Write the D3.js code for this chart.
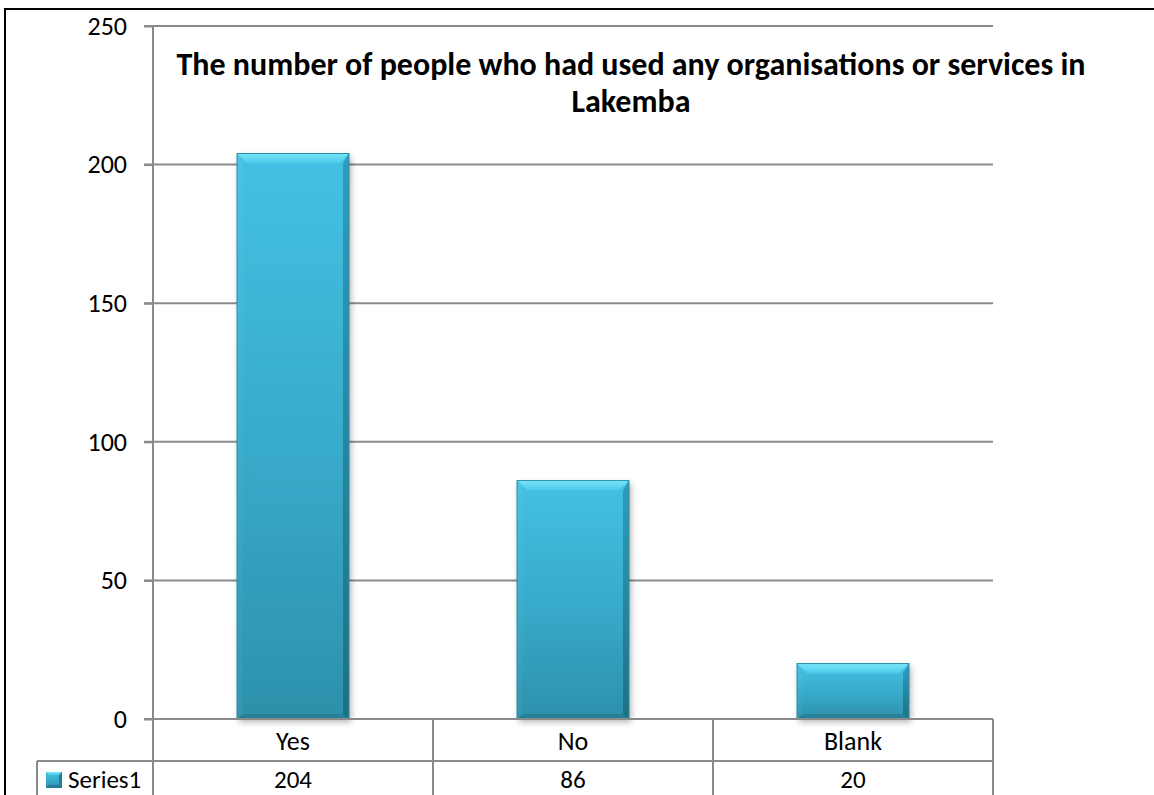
<!DOCTYPE html>
<html>
<head>
<meta charset="utf-8">
<script src="https://cdn.jsdelivr.net/npm/d3@7"></script>
<style>
  html, body { margin: 0; padding: 0; background: #fff; }
  svg { display: block; font-family: Carlito, Calibri, Lato, "Open Sans", sans-serif; }
</style>
</head>
<body>
<svg id="chart" width="1154" height="795"></svg>
<script>
// Survey answers and counts
const categories = ["Yes", "No", "Blank"];
const seriesName = "Series1";
const seriesValues = [204, 86, 20];
const yTicks = [0, 50, 100, 150, 200, 250];
const titleLines = ["The number of people who had used any organisations or services in", "Lakemba"];

const svg = d3.select("#chart");
const W = 1154, H = 795;
const labelSize = 26;

// plot frame
const plot = { left: 153, right: 993, top: 26, bottom: 719 };
const tableRow1 = 761;   // line between category row and value row
const tableLeft = 37;

const x = d3.scaleBand().domain(categories).range([plot.left, plot.right]).paddingInner(0.6).paddingOuter(0.3);
const xCell = d3.scaleBand().domain(categories).range([plot.left, plot.right]).padding(0);
const y = d3.scaleLinear().domain([0, 250]).range([plot.bottom, plot.top]);

const defs = svg.append("defs");
const bodyGrad = defs.append("linearGradient").attr("id", "bodyGrad").attr("x1", 0).attr("y1", 0).attr("x2", 0).attr("y2", 1);
bodyGrad.append("stop").attr("offset", "0%").attr("stop-color", "#43c1e4");
bodyGrad.append("stop").attr("offset", "55%").attr("stop-color", "#37a9c9");
bodyGrad.append("stop").attr("offset", "100%").attr("stop-color", "#2d90aa");

const topGrad = defs.append("linearGradient").attr("id", "topGrad").attr("x1", 0).attr("y1", 0).attr("x2", 0).attr("y2", 1);
topGrad.append("stop").attr("offset", "0%").attr("stop-color", "#7ae6fa");
topGrad.append("stop").attr("offset", "100%").attr("stop-color", "#4ac8ea");

const sideL = defs.append("linearGradient").attr("id", "sideL").attr("x1", 0).attr("y1", 0).attr("x2", 0).attr("y2", 1);
sideL.append("stop").attr("offset", "0%").attr("stop-color", "#4cc6e6");
sideL.append("stop").attr("offset", "100%").attr("stop-color", "#3399b3");

const sideR = defs.append("linearGradient").attr("id", "sideR").attr("x1", 0).attr("y1", 0).attr("x2", 0).attr("y2", 1);
sideR.append("stop").attr("offset", "0%").attr("stop-color", "#2b97b3");
sideR.append("stop").attr("offset", "100%").attr("stop-color", "#1c6a7e");

const shadow = defs.append("filter").attr("id", "shadow").attr("x", "-20%").attr("y", "-20%").attr("width", "140%").attr("height", "140%");
shadow.append("feDropShadow").attr("dx", 2).attr("dy", 3).attr("stdDeviation", 3)
  .attr("flood-color", "#000").attr("flood-opacity", 0.3);

// outer chart border
svg.append("path")
  .attr("d", `M5,${H + 2} L5,9 L${W + 2},9`)
  .attr("fill", "none").attr("stroke", "#000").attr("stroke-width", 2);

// horizontal gridlines
const gridColor = "#8a8a8a";
svg.append("g").selectAll("line").data(yTicks.filter(d => d > 0)).join("line")
  .attr("x1", plot.left - 9).attr("x2", plot.right)
  .attr("y1", d => y(d)).attr("y2", d => y(d))
  .attr("stroke", gridColor).attr("stroke-width", 2);

// y axis labels via d3 axis
const yAxis = svg.append("g").attr("transform", `translate(${plot.left},0)`)
  .call(d3.axisLeft(y).tickValues(yTicks).tickSize(9).tickPadding(17));
yAxis.select(".domain").remove();
yAxis.selectAll(".tick line").attr("stroke", gridColor).attr("stroke-width", 2);
yAxis.selectAll(".tick text").attr("font-size", labelSize).attr("fill", "#000")
  .attr("font-family", "Carlito, Calibri, Lato, sans-serif");

// bars with bevelled faces
const b = 10;
const bars = svg.append("g").selectAll("g").data(seriesValues.map((v, i) => ({ v, c: categories[i] }))).join("g");
bars.each(function (d) {
  const g = d3.select(this);
  const x0 = x(d.c), w = x.bandwidth(), y0 = y(d.v), h = y(0) - y(d.v);
  const bb = Math.min(b, h / 3);
  g.append("rect").attr("x", x0).attr("y", y0).attr("width", w).attr("height", h)
    .attr("fill", "url(#bodyGrad)").attr("filter", "url(#shadow)");
  g.append("polygon").attr("points", [[x0, y0], [x0 + w, y0], [x0 + w - bb, y0 + bb], [x0 + bb, y0 + bb]].join(" "))
    .attr("fill", "url(#topGrad)");
  g.append("polygon").attr("points", [[x0, y0], [x0 + bb * 0.6, y0 + bb], [x0 + bb * 0.6, y0 + h - bb * 0.5], [x0, y0 + h]].join(" "))
    .attr("fill", "url(#sideL)").attr("opacity", 0.7);
  g.append("polygon").attr("points", [[x0 + w, y0], [x0 + w - bb * 0.6, y0 + bb], [x0 + w - bb * 0.6, y0 + h - bb * 0.5], [x0 + w, y0 + h]].join(" "))
    .attr("fill", "url(#sideR)").attr("opacity", 0.85);
  g.append("polygon").attr("points", [[x0, y0 + h], [x0 + bb * 0.6, y0 + h - bb * 0.5], [x0 + w - bb * 0.6, y0 + h - bb * 0.5], [x0 + w, y0 + h]].join(" "))
    .attr("fill", "#247d94").attr("opacity", 0.8);
  g.append("rect").attr("x", x0).attr("y", y0).attr("width", w).attr("height", h)
    .attr("fill", "none").attr("stroke", "#2a8ea8").attr("stroke-width", 1);
});

// data table lines
const tbl = svg.append("g").attr("stroke", gridColor).attr("stroke-width", 2).attr("fill", "none");
tbl.append("line").attr("x1", plot.left - 9).attr("x2", plot.right).attr("y1", plot.bottom).attr("y2", plot.bottom);
tbl.append("line").attr("x1", tableLeft).attr("x2", plot.right).attr("y1", tableRow1).attr("y2", tableRow1);
tbl.append("line").attr("x1", plot.left).attr("x2", plot.left).attr("y1", plot.top).attr("y2", H + 2);
tbl.append("line").attr("x1", tableLeft).attr("x2", tableLeft).attr("y1", tableRow1).attr("y2", H + 2);
tbl.selectAll(".div").data(categories).join("line").attr("class", "div")
  .attr("x1", d => xCell(d) + xCell.bandwidth()).attr("x2", d => xCell(d) + xCell.bandwidth())
  .attr("y1", plot.bottom).attr("y2", H + 2);

// category labels
svg.append("g").selectAll("text").data(categories).join("text")
  .attr("x", d => xCell(d) + xCell.bandwidth() / 2).attr("y", (plot.bottom + tableRow1) / 2 + 1)
  .attr("text-anchor", "middle").attr("dominant-baseline", "central")
  .attr("font-size", labelSize).attr("fill", "#000").text(d => d);

// value row
svg.append("g").selectAll("text").data(seriesValues).join("text")
  .attr("x", (d, i) => xCell(categories[i]) + xCell.bandwidth() / 2).attr("y", 779)
  .attr("text-anchor", "middle").attr("dominant-baseline", "central")
  .attr("font-size", 25).attr("fill", "#000").text(d => d);

// legend key and series name
const key = svg.append("g").attr("transform", "translate(46,772)");
key.append("rect").attr("width", 16).attr("height", 16).attr("fill", "url(#bodyGrad)");
key.append("polygon").attr("points", "0,0 16,0 13,3 3,3").attr("fill", "url(#topGrad)");
key.append("polygon").attr("points", "16,0 13,3 13,13 16,16").attr("fill", "#247d94");
key.append("polygon").attr("points", "0,16 3,13 13,13 16,16").attr("fill", "#247d94");
svg.append("text").attr("x", 68).attr("y", 779).attr("dominant-baseline", "central")
  .attr("font-size", 25).attr("fill", "#000").text(seriesName);

// title
const title = svg.append("text").attr("text-anchor", "middle").attr("font-weight", "bold")
  .attr("font-size", 32).attr("fill", "#000");
titleLines.forEach((t, i) => {
  title.append("tspan").attr("x", 631).attr("y", 75 + i * 37).text(t);
});
</script>
</body>
</html>
